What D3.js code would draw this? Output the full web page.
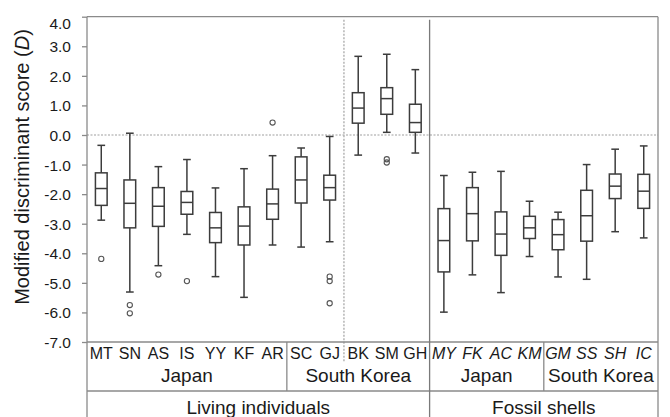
<!DOCTYPE html>
<html>
<head>
<meta charset="utf-8">
<script src="https://cdn.jsdelivr.net/npm/d3@7"></script>
<style>
  body { margin: 0; background: #fff; }
  svg { display: block; font-family: "Liberation Sans", Arial, sans-serif; }
</style>
</head>
<body>
<svg id="chart" width="670" height="417"></svg>
<script>
//data
var categories = ["MT","SN","AS","IS","YY","KF","AR","SC","GJ","BK","SM","GH","MY","FK","AC","KM","GM","SS","SH","IC"];
var whiskerHigh = [-0.35, 0.06,-1.07,-0.83,-1.79,-1.14,-0.70,-0.44,-0.05, 2.66, 2.73, 2.21,-1.37,-1.26,-1.23,-2.24,-2.61,-1.00,-0.48,-0.37];
var q3          = [-1.28,-1.52,-1.78,-1.91,-2.62,-2.43,-1.83,-0.74,-1.36, 1.43, 1.60, 1.04,-2.49,-1.78,-2.60,-2.75,-2.86,-1.87,-1.32,-1.33];
var median      = [-1.81,-2.31,-2.41,-2.28,-3.14,-3.08,-2.33,-1.52,-1.78, 0.91, 1.23, 0.42,-3.57,-2.66,-3.35,-3.14,-3.37,-2.73,-1.73,-1.90];
var q1          = [-2.38,-3.14,-3.09,-2.68,-3.64,-3.72,-2.85,-2.30,-2.20, 0.40, 0.70, 0.09,-4.63,-3.58,-4.07,-3.50,-3.88,-3.59,-2.15,-2.48];
var whiskerLow  = [-2.88,-5.31,-4.42,-3.36,-4.79,-5.49,-3.72,-3.79,-3.61,-0.68, 0.09,-0.61,-5.99,-4.73,-5.33,-4.11,-4.80,-4.88,-3.27,-3.48];
var outliers = [[-4.19],[-5.75,-6.03],[-4.72],[-4.94],[],[],[0.42],[],[-4.79,-4.94,-5.69],[],[-0.82,-0.93],[],[],[],[],[],[],[],[],[]];

var regionLabels = ["Japan","South Korea","Japan","South Korea"];
var regionFirst  = ["MT","SC","MY","GM"];
var regionLast   = ["AR","GH","KM","IC"];
var originLabels = ["Living individuals","Fossil shells"];
var originFirst  = ["MT","MY"];
var originLast   = ["GH","IC"];
var fossilCats   = ["MY","FK","AC","KM","GM","SS","SH","IC"];
var dashedBefore = "BK";

var yTicks = [4,3,2,1,0,-1,-2,-3,-4,-5,-6,-7];

//sizes
var plotLeft = 87, plotRight = 658, plotTop = 16.7, plotBottom = 342, tableBottom = 417;
var row1 = 391;
var lineColor = "#8a8a8a", boxColor = "#3c3c3c", textColor = "#1a1a1a";

var svg = d3.select("#chart");

var x = d3.scaleBand().domain(categories).range([plotLeft, plotRight]);
var y = d3.scaleLinear().domain([-7, 4]).range([plotBottom, plotTop]);

var bw = x.bandwidth();
var boxW = bw * 0.41, capW = bw * 0.27;

//zero line
svg.append("line")
  .attr("x1", plotLeft).attr("x2", plotRight)
  .attr("y1", y(0)).attr("y2", y(0))
  .attr("stroke", "#a0a0a0").attr("stroke-width", 1.2)
  .attr("stroke-dasharray", "2,1.5");

//dashed separator (SC GJ | BK SM GH)
svg.append("line")
  .attr("x1", x(dashedBefore)).attr("x2", x(dashedBefore))
  .attr("y1", plotTop + 3).attr("y2", 362)
  .attr("stroke", "#a0a0a0").attr("stroke-width", 1.2)
  .attr("stroke-dasharray", "2,1.5");

//frame
var frame = svg.append("g").attr("stroke", lineColor).attr("stroke-width", 1.3).attr("fill", "none");
frame.append("line").attr("x1", plotLeft).attr("x2", plotRight).attr("y1", plotTop).attr("y2", plotTop);
frame.append("line").attr("x1", plotRight).attr("x2", plotRight).attr("y1", plotTop).attr("y2", tableBottom);
frame.append("line").attr("x1", plotLeft).attr("x2", plotLeft).attr("y1", plotTop).attr("y2", tableBottom);
frame.append("line").attr("x1", plotLeft).attr("x2", plotRight).attr("y1", plotBottom).attr("y2", plotBottom);
frame.append("line").attr("x1", plotLeft).attr("x2", plotRight).attr("y1", row1).attr("y2", row1);

//origin divider (full height)
originFirst.slice(1).forEach(function(c){
  frame.append("line")
    .attr("x1", x(c)).attr("x2", x(c))
    .attr("y1", plotTop + 3).attr("y2", tableBottom)
    .attr("stroke", "#7a7a7a");
});
//region dividers (label rows only)
regionFirst.slice(1).forEach(function(c){
  if (originFirst.indexOf(c) >= 0) return;
  frame.append("line")
    .attr("x1", x(c)).attr("x2", x(c))
    .attr("y1", plotBottom).attr("y2", row1);
});

//y axis
var yAxis = d3.axisLeft(y)
  .tickValues(yTicks)
  .tickSize(5)
  .tickPadding(11)
  .tickFormat(function(d){ return d.toFixed(1); });

var gy = svg.append("g").attr("transform", "translate(" + plotLeft + ",0)").call(yAxis);
gy.select(".domain").remove();
gy.selectAll(".tick line").attr("stroke", lineColor).attr("stroke-width", 1.3);
gy.selectAll(".tick text")
  .attr("fill", textColor)
  .style("font-size", "15.5px")
  .attr("dy", function(d){ return d === 4 ? "0.75em" : "0.35em"; });

//y title
svg.append("text")
  .attr("transform", "translate(29,167) rotate(-90)")
  .attr("text-anchor", "middle")
  .attr("fill", textColor)
  .style("font-size", "20px")
  .html('Modified discriminant score (<tspan font-style="italic">D</tspan>)');

//boxes
var boxes = svg.append("g").selectAll("g")
  .data(categories)
  .enter()
  .append("g")
  .attr("transform", function(d){ return "translate(" + (x(d) + bw / 2) + ",0)"; });

boxes.append("line")   //whisker
  .attr("x1", 0).attr("x2", 0)
  .attr("y1", function(d, i){ return y(whiskerHigh[i]); })
  .attr("y2", function(d, i){ return y(whiskerLow[i]); })
  .attr("stroke", boxColor).attr("stroke-width", 1.5);

boxes.append("line")   //top cap
  .attr("x1", -capW / 2).attr("x2", capW / 2)
  .attr("y1", function(d, i){ return y(whiskerHigh[i]); })
  .attr("y2", function(d, i){ return y(whiskerHigh[i]); })
  .attr("stroke", boxColor).attr("stroke-width", 1.5);

boxes.append("line")   //bottom cap
  .attr("x1", -capW / 2).attr("x2", capW / 2)
  .attr("y1", function(d, i){ return y(whiskerLow[i]); })
  .attr("y2", function(d, i){ return y(whiskerLow[i]); })
  .attr("stroke", boxColor).attr("stroke-width", 1.5);

boxes.append("rect")
  .attr("x", -boxW / 2)
  .attr("width", boxW)
  .attr("y", function(d, i){ return y(q3[i]); })
  .attr("height", function(d, i){ return y(q1[i]) - y(q3[i]); })
  .attr("fill", "#fff")
  .attr("stroke", boxColor).attr("stroke-width", 1.5);

boxes.append("line")   //median
  .attr("x1", -boxW / 2).attr("x2", boxW / 2)
  .attr("y1", function(d, i){ return y(median[i]); })
  .attr("y2", function(d, i){ return y(median[i]); })
  .attr("stroke", boxColor).attr("stroke-width", 1.5);

boxes.selectAll("circle")
  .data(function(d, i){ return outliers[i]; })
  .enter()
  .append("circle")
  .attr("cx", 0)
  .attr("cy", function(v){ return y(v); })
  .attr("r", 2.6)
  .attr("fill", "none")
  .attr("stroke", "#555").attr("stroke-width", 1.1);

//category labels
svg.append("g").selectAll("text")
  .data(categories)
  .enter()
  .append("text")
  .attr("x", function(d){ return x(d) + bw / 2; })
  .attr("y", 359)
  .attr("text-anchor", "middle")
  .attr("fill", textColor)
  .style("font-size", "16px")
  .style("font-style", function(d){ return fossilCats.indexOf(d) >= 0 ? "italic" : "normal"; })
  .text(function(d){ return d; });

//region labels
svg.append("g").selectAll("text")
  .data(regionLabels)
  .enter()
  .append("text")
  .attr("x", function(d, i){ return (x(regionFirst[i]) + x(regionLast[i]) + bw) / 2; })
  .attr("y", 382)
  .attr("text-anchor", "middle")
  .attr("fill", textColor)
  .style("font-size", "19px")
  .text(function(d){ return d; });

//origin labels
svg.append("g").selectAll("text")
  .data(originLabels)
  .enter()
  .append("text")
  .attr("x", function(d, i){ return (x(originFirst[i]) + x(originLast[i]) + bw) / 2; })
  .attr("y", 414)
  .attr("text-anchor", "middle")
  .attr("fill", textColor)
  .style("font-size", "19px")
  .text(function(d){ return d; });
</script>
</body>
</html>
